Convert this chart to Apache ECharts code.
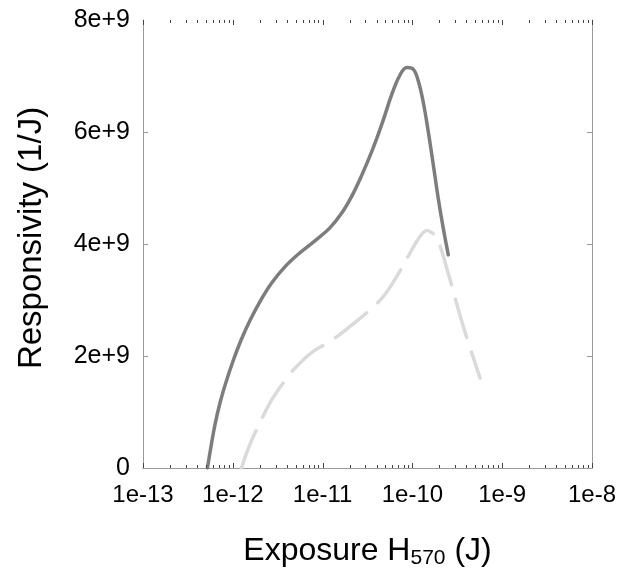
<!DOCTYPE html>
<html>
<head>
<meta charset="utf-8">
<script src="https://cdn.jsdelivr.net/npm/echarts@6/dist/echarts.min.js"></script>
<style>html,body{margin:0;padding:0;background:#fff}#c{width:627px;height:581px}</style>
</head>
<body>
<div id="c"></div>
<script>
// Data
var solidExposure = [5.22e-13, 5.69e-13, 6.30e-13, 7.16e-13, 8.36e-13, 1.0e-12, 1.228e-12, 1.547e-12, 2.0e-12, 2.72e-12, 3.80e-12, 5.58e-12, 8.21e-12, 1.206e-11, 1.641e-11, 2.12e-11, 2.74e-11, 3.55e-11, 4.58e-11, 5.92e-11, 7.27e-11, 8.71e-11, 1.016e-10, 1.154e-10, 1.313e-10, 1.492e-10, 1.697e-10, 1.929e-10, 2.193e-10, 2.51e-10];
var solidResp = [0, 0.362e9, 0.755e9, 1.147e9, 1.522e9, 1.897e9, 2.272e9, 2.628e9, 2.968e9, 3.307e9, 3.592e9, 3.842e9, 4.056e9, 4.288e9, 4.556e9, 4.859e9, 5.234e9, 5.662e9, 6.144e9, 6.679e9, 7.018e9, 7.152e9, 7.125e9, 6.929e9, 6.554e9, 6.037e9, 5.448e9, 4.841e9, 4.306e9, 3.806e9];
var dashedExposure = [1.25e-12, 1.547e-12, 2.0e-12, 2.585e-12, 3.64e-12, 5.13e-12, 7.86e-12, 1.206e-11, 2.015e-11, 3.37e-11, 4.74e-11, 6.68e-11, 9.40e-11, 1.215e-10, 1.455e-10, 1.654e-10, 1.88e-10, 2.412e-10, 3.69e-10, 5.67e-10];
var dashedResp = [0, 0.416e9, 0.803e9, 1.16e9, 1.517e9, 1.813e9, 2.081e9, 2.259e9, 2.527e9, 2.825e9, 3.062e9, 3.419e9, 3.837e9, 4.133e9, 4.24e9, 4.199e9, 4.11e9, 3.569e9, 2.527e9, 1.606e9];
var xTickValues = [1e-13, 1e-12, 1e-11, 1e-10, 1e-9, 1e-8];
var xTickLabels = ['1e-13', '1e-12', '1e-11', '1e-10', '1e-9', '1e-8'];
var yTickValues = [0, 2e9, 4e9, 6e9, 8e9];
var yTickLabels = ['0', '2e+9', '4e+9', '6e+9', '8e+9'];

function zip(a, b) { return a.map(function (v, i) { return [v, b[i]]; }); }
// tick marks: [value, isMajor]
var xTicks = [];
xTickValues.forEach(function (v, i) {
  xTicks.push([v, 1]);
  if (i < xTickValues.length - 1) for (var k = 2; k <= 9; k++) xTicks.push([k * v, 0]);
});
var yTicks = yTickValues.slice(1, -1).map(function (v) { return [1e-13, v]; });

var FONT = 'Liberation Sans, Arial, sans-serif';
var FRAME = '#9a9a9a';
var TICK = '#444';

var chart = echarts.init(document.getElementById('c'));
var xCommon = {
  type: 'log', logBase: 10, min: 1e-13, max: 1e-8,
  axisLine: { show: true, lineStyle: { color: FRAME, width: 1 } },
  axisTick: { show: false },
  splitLine: { show: false },
  minorTick: { show: false }
};
var yCommon = {
  type: 'value', min: 0, max: 8e9, interval: 2e9,
  axisLine: { show: true, lineStyle: { color: FRAME, width: 1 } },
  axisTick: { show: false },
  splitLine: { show: false }
};
chart.setOption({
  animation: false,
  grid: { left: 143, top: 20, width: 449, height: 448, containLabel: false },
  xAxis: [
    Object.assign({}, xCommon, {
      position: 'bottom',
      axisLabel: {
        show: true, margin: 15, color: '#000', fontSize: 24, fontFamily: FONT,
        formatter: function (v) { return xTickLabels[xTickValues.indexOf(v)] || ''; }
      },
      name: 'Exposure H{sub|570} (J)',
      nameLocation: 'middle', nameGap: 65,
      nameTextStyle: {
        color: '#000', fontSize: 32, fontFamily: FONT, lineHeight: 36,
        rich: { sub: { fontSize: 21, fontFamily: FONT, color: '#000', lineHeight: 36, verticalAlign: 'bottom', padding: [16, 0, 0, 0] } }
      }
    }),
    Object.assign({}, xCommon, { position: 'top', axisLabel: { show: false } })
  ],
  yAxis: [
    Object.assign({}, yCommon, {
      position: 'left',
      axisLabel: {
        margin: 13, color: '#000', fontSize: 25, fontFamily: FONT,
        formatter: function (v) { return yTickLabels[yTickValues.indexOf(v)]; }
      },
      name: 'Responsivity (1/J)', nameLocation: 'middle', nameGap: 95,
      nameTextStyle: { color: '#000', fontSize: 33, fontFamily: FONT, padding: [0, 0, 0, 12] }
    }),
    Object.assign({}, yCommon, { position: 'right', axisLabel: { show: false } })
  ],
  series: [
    {
      type: 'custom', xAxisIndex: 0, yAxisIndex: 0, silent: true, clip: false, z: 5,
      data: xTicks,
      renderItem: function (params, api) {
        var cs = params.coordSys;
        var px = Math.round(api.coord([api.value(0), 0])[0]) + 0.5;
        var len = api.value(1) ? 5 : 3;
        var bottom = cs.y + cs.height;
        return {
          type: 'group',
          children: [
            { type: 'line', shape: { x1: px, y1: bottom, x2: px, y2: bottom - len }, style: { stroke: TICK, lineWidth: 1 } },
            { type: 'line', shape: { x1: px, y1: cs.y, x2: px, y2: cs.y + len }, style: { stroke: TICK, lineWidth: 1 } }
          ]
        };
      }
    },
    {
      type: 'custom', xAxisIndex: 0, yAxisIndex: 0, silent: true, clip: false, z: 5,
      data: yTicks,
      renderItem: function (params, api) {
        var cs = params.coordSys;
        var py = Math.round(api.coord([api.value(0), api.value(1)])[1]) + 0.5;
        var right = cs.x + cs.width;
        return {
          type: 'group',
          children: [
            { type: 'line', shape: { x1: cs.x, y1: py, x2: cs.x + 5, y2: py }, style: { stroke: FRAME, lineWidth: 1 } },
            { type: 'line', shape: { x1: right, y1: py, x2: right - 5, y2: py }, style: { stroke: FRAME, lineWidth: 1 } }
          ]
        };
      }
    },
    {
      type: 'line', data: zip(dashedExposure, dashedResp), smooth: 0.4, showSymbol: false,
      lineStyle: { color: '#dadada', width: 3.5, type: [40, 15], cap: 'round' }, z: 3
    },
    {
      type: 'line', data: zip(solidExposure, solidResp), smooth: 0.4, showSymbol: false,
      lineStyle: { color: '#7d7d7d', width: 3.5, cap: 'round' }, z: 4
    }
  ]
});
</script>
</body>
</html>
